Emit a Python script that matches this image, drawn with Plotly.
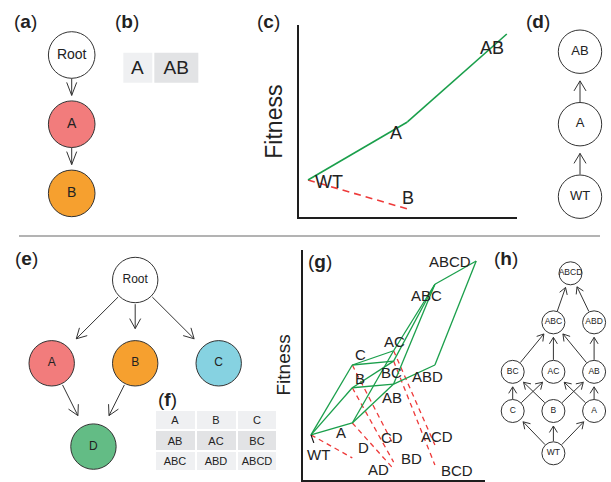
import plotly.graph_objects as go

W, H = 611, 482
FONT = "Liberation Sans, Arial, Helvetica, sans-serif"
INK = "#222222"
EDGE = "#333333"
GREEN = "#1A9F4B"
RED = "#EE3A3A"

# ---------------- data ----------------
# (a) restriction DAG for two genes
a_nodes = ["Root", "A", "B"]
a_col = [0, 0, 0]
a_level = [0, 1, 2]
a_edges = [("Root", "A"), ("A", "B")]

# (b) accessible genotypes
b_genotypes = ["A", "AB"]
b_shade = [0, 1]

# (c) fitness landscape, two loci
c_genotypes = ["WT", "A", "AB", "B"]
c_fitness = [1.93, 4.95, 9.53, 0.42]
c_accessible = [("WT", "A"), ("A", "AB")]
c_inaccessible = [("WT", "B")]

# (d) transition graph
d_nodes = ["WT", "A", "AB"]
d_col = [0, 0, 0]
d_level = [0, 1, 2]
d_edges = [("WT", "A"), ("A", "AB")]

# (e) restriction DAG for four genes
e_nodes = ["Root", "A", "B", "C", "D"]
e_col = [1, 0, 1, 2, 0.5]
e_level = [0, 1, 1, 1, 2]
e_edges = [("Root", "A"), ("Root", "B"), ("Root", "C"), ("A", "D"), ("B", "D")]

gene_colors = {"Root": "#FFFFFF", "A": "#F27C7C", "B": "#F6A02F",
               "C": "#86D2E1", "D": "#63BC85"}

# (f) accessible genotypes
f_genotypes = [["A", "B", "C"], ["AB", "AC", "BC"], ["ABC", "ABD", "ABCD"]]
f_shade = [[0, 0, 0], [1, 1, 1], [0, 0, 0]]

# (g) fitness landscape, four loci
g_genotypes = ["WT", "A", "B", "C", "AB", "AC", "BC", "ABC", "ABD", "ABCD",
               "D", "AD", "BD", "CD", "ACD", "BCD"]
g_fitness = [1.96, 2.48, 4.01, 5.00, 4.17, 5.62, 5.17, 8.51, 5.00, 9.52,
             0.96, 0.48, 0.78, 1.52, 1.52, 0.65]
g_accessible = [("WT", "A"), ("WT", "B"), ("WT", "C"),
                ("A", "AB"), ("A", "AC"), ("B", "AB"), ("B", "BC"),
                ("C", "AC"), ("C", "BC"),
                ("AB", "ABC"), ("AC", "ABC"), ("BC", "ABC"), ("AB", "ABD"),
                ("ABC", "ABCD"), ("ABD", "ABCD")]
g_inaccessible = [("WT", "D"), ("A", "AD"), ("B", "BD"), ("C", "CD"),
                  ("AC", "ACD"), ("BC", "BCD")]

# (h) transition graph
h_nodes = ["WT", "C", "B", "A", "BC", "AC", "AB", "ABC", "ABD", "ABCD"]
h_col = [1, 0, 1, 2, 0, 1, 2, 1, 2, 1.42]
h_level = [0, 0.94, 0.94, 0.94, 1.81, 1.81, 1.81, 2.91, 2.91, 4.0]
h_edges = [("WT", "C"), ("WT", "B"), ("WT", "A"),
           ("C", "BC"), ("C", "AC"), ("B", "BC"), ("B", "AB"),
           ("A", "AC"), ("A", "AB"),
           ("BC", "ABC"), ("AC", "ABC"), ("AB", "ABC"), ("AB", "ABD"),
           ("ABC", "ABCD"), ("ABD", "ABCD")]

# ---------------- styling / placement (pixels) ----------------
c_label_shift = {"WT": (21, 2), "A": (-11, 11), "AB": (-15, 14), "B": (1, -11)}
g_label_shift = {"WT": (7, 20), "A": (-11, 10), "B": (8, -9), "C": (8, -11),
                 "AB": (-2, 13), "AC": (1, -9), "BC": (-2, 11), "ABC": (-8, 11),
                 "ABD": (-7, 11), "ABCD": (-26, 0), "D": (11, -10), "AD": (-15, 1),
                 "BD": (18, -4), "CD": (-2, -8), "ACD": (2, -9), "BCD": (22, 5)}
g_connectors = ["WT"]

fig = go.Figure()


def refs(i):
    return ("x", "y") if i == 1 else (f"x{i}", f"y{i}")


def keys(i):
    return ("xaxis", "yaxis") if i == 1 else (f"xaxis{i}", f"yaxis{i}")


def n_mut(g):
    return 0 if g == "WT" else len(g)


# ---------- node/arrow diagrams ----------
def diagram(i, nodes, cols, levels, edges, place, r, fs, arrow, fills=None):
    ox, oy, sx, sy, down = place
    sgn = 1 if down else -1
    xk, yk = keys(i)
    xr, yr = refs(i)
    fig.update_layout({
        xk: dict(domain=[0, 1], range=[(0 - ox) / sx, (W - ox) / sx],
                 visible=False, anchor=yr, fixedrange=True),
        yk: dict(domain=[0, 1], range=[(H - oy) / (sgn * sy), (0 - oy) / (sgn * sy)],
                 visible=False, anchor=xr, fixedrange=True),
    })
    pos = {n: (ox + c * sx, oy + sgn * l * sy) for n, c, l in zip(nodes, cols, levels)}

    def back(p):
        return (p[0] - ox) / sx, (p[1] - oy) / (sgn * sy)

    tail_gap, tip_gap, L, Wh = arrow
    xs, ys = [], []
    for u, v in edges:
        (x0, y0), (x1, y1) = pos[u], pos[v]
        dx, dy = x1 - x0, y1 - y0
        d = (dx * dx + dy * dy) ** 0.5
        ux, uy = dx / d, dy / d
        nx, ny = -uy, ux
        tail = (x0 + ux * (r + tail_gap), y0 + uy * (r + tail_gap))
        tip = (x1 - ux * (r + tip_gap), y1 - uy * (r + tip_gap))
        armA = (tip[0] - ux * L + nx * Wh, tip[1] - uy * L + ny * Wh)
        armB = (tip[0] - ux * L - nx * Wh, tip[1] - uy * L - ny * Wh)
        for seg in ([tail, tip], [armA, tip, armB]):
            for p in seg:
                bx, by = back(p)
                xs.append(bx)
                ys.append(by)
            xs.append(None)
            ys.append(None)
    fig.add_trace(go.Scatter(x=xs, y=ys, mode="lines", xaxis=xr, yaxis=yr,
                             line=dict(color=EDGE, width=1), hoverinfo="skip",
                             cliponaxis=False))
    colors = [fills.get(n, "#FFFFFF") for n in nodes] if fills else "#FFFFFF"
    fig.add_trace(go.Scatter(x=cols, y=levels, mode="markers+text", text=nodes,
                             xaxis=xr, yaxis=yr, textposition="middle center",
                             textfont=dict(size=fs, color=INK, family=FONT),
                             marker=dict(size=2 * r, color=colors,
                                         line=dict(color=EDGE, width=1)),
                             hoverinfo="skip", cliponaxis=False))


diagram(1, a_nodes, a_col, a_level, a_edges, (71.7, 55, 50, 69.2, True),
        23.3, 14, (0, 5.5, 13, 5), gene_colors)
diagram(4, d_nodes, d_col, d_level, d_edges, (580, 196.7, 50, 72.5, False),
        21.7, 13, (0.5, 7.5, 10, 6))
diagram(5, e_nodes, e_col, e_level, e_edges, (51.7, 280, 83.5, 83.3, True),
        22.7, 12, (1.5, 12, 10, 5.5), gene_colors)
diagram(8, h_nodes, h_col, h_level, h_edges, (512.7, 453.3, 40.7, 45, False),
        11.5, 8.5, (0.5, 3.5, 6.5, 4))


# ---------- genotype tables ----------
def table(i, labels, shade, xedges, box, fs):
    x0, y0, x1, y1 = box
    xk, yk = keys(i)
    xr, yr = refs(i)
    nrow = len(labels)
    fig.add_trace(go.Heatmap(z=shade, x=xedges, y=list(range(nrow + 1)), text=labels,
                             texttemplate="%{text}",
                             textfont=dict(size=fs, color=INK, family=FONT),
                             colorscale=[[0, "#EFF0F2"], [1, "#E2E3E5"]],
                             zmin=0, zmax=1, showscale=False, xgap=2, ygap=2,
                             xaxis=xr, yaxis=yr, hoverinfo="skip"))
    fig.update_layout({
        xk: dict(domain=[x0 / W, x1 / W], range=[xedges[0], xedges[-1]],
                 visible=False, anchor=yr, fixedrange=True),
        yk: dict(domain=[1 - y1 / H, 1 - y0 / H], range=[nrow, 0],
                 visible=False, anchor=xr, fixedrange=True),
    })


b_edges = [0]
for g in b_genotypes:
    b_edges.append(b_edges[-1] + len(g) + 1)
table(2, [b_genotypes], [b_shade], b_edges, (122.3, 51.7, 199, 84), 19)
table(6, f_genotypes, f_shade, [0, 1, 2, 3], (155, 410, 277.3, 471), 11)


# ---------- fitness landscapes ----------
def landscape(i, genos, fit, acc, inacc, box, wt_px, px_per_mut, yrange,
              fs, shifts, lw, dash, connectors=()):
    x0, y0, x1, y1 = box
    xk, yk = keys(i)
    xr, yr = refs(i)
    ax = dict(showline=True, linecolor="#1E1E1E", linewidth=1.5, showgrid=False,
              zeroline=False, showticklabels=False, ticks="", fixedrange=True)
    fig.update_layout({
        xk: dict(ax, domain=[x0 / W, x1 / W], anchor=yr,
                 range=[(x0 - wt_px) / px_per_mut, (x1 - wt_px) / px_per_mut]),
        yk: dict(ax, domain=[1 - y1 / H, 1 - y0 / H], anchor=xr, range=yrange),
    })
    fx = {g: n_mut(g) for g in genos}
    fy = dict(zip(genos, fit))
    for edges, color, ds in ((inacc, RED, dash), (acc, GREEN, "solid")):
        xs, ys = [], []
        for u, v in edges:
            xs += [fx[u], fx[v], None]
            ys += [fy[u], fy[v], None]
        fig.add_trace(go.Scatter(x=xs, y=ys, mode="lines", xaxis=xr, yaxis=yr,
                                 line=dict(color=color, width=lw, dash=ds),
                                 hoverinfo="skip", cliponaxis=False))
    pxy = (y1 - y0) / (yrange[1] - yrange[0])
    for g in connectors:
        dx, dy = shifts[g]
        fig.add_trace(go.Scatter(x=[fx[g], fx[g] + 0.4 * dx / px_per_mut],
                                 y=[fy[g], fy[g] - 0.4 * dy / pxy],
                                 mode="lines", xaxis=xr, yaxis=yr,
                                 line=dict(color="#111111", width=1.2),
                                 hoverinfo="skip", cliponaxis=False))
    for g in genos:
        dx, dy = shifts[g]
        fig.add_annotation(x=fx[g], y=fy[g], xref=xr, yref=yr, text=g,
                           showarrow=False, xshift=dx, yshift=-dy,
                           xanchor="center", yanchor="middle",
                           font=dict(size=fs, color=INK, family=FONT))


landscape(3, c_genotypes, c_fitness, c_accessible, c_inaccessible,
          (299, 25, 517, 217), 308, 99.4, [0, 10], 18, c_label_shift, 1.6, "7px,5px")
landscape(7, g_genotypes, g_fitness, g_accessible, g_inaccessible,
          (303, 250, 485, 480), 311, 41.3, [0, 10], 15, g_label_shift, 1.3, "5px,4px",
          g_connectors)

# axis titles
for cx, cy, fs in ((274, 121.7, 23), (282.5, 365, 19)):
    fig.add_annotation(x=cx / W, y=1 - cy / H, xref="paper", yref="paper",
                       text="Fitness", textangle=-90, showarrow=False,
                       xanchor="center", yanchor="middle",
                       font=dict(size=fs, color=INK, family=FONT))

# panel letters
letters = [("a", 25.8, 21.3), ("b", 126.7, 21.3), ("c", 268.3, 21.3), ("d", 537.8, 21.3),
           ("e", 26, 258.3), ("f", 167.5, 399.2), ("g", 320.3, 261.7), ("h", 506.2, 258.3)]
for t, cx, cy in letters:
    fig.add_annotation(x=cx / W, y=1 - cy / H, xref="paper", yref="paper",
                       text=f"(<b>{t}</b>)", showarrow=False,
                       xanchor="center", yanchor="middle",
                       font=dict(size=19, color=INK, family=FONT))

# separator between the two rows of panels
fig.add_shape(type="line", xref="paper", yref="paper", x0=19 / W, x1=600 / W,
              y0=1 - 236 / H, y1=1 - 236 / H, line=dict(color="#9A9A9A", width=1.5))

fig.update_layout(width=W, height=H, autosize=False,
                  margin=dict(l=0, r=0, t=0, b=0, pad=0),
                  paper_bgcolor="white", plot_bgcolor="rgba(0,0,0,0)",
                  showlegend=False, font=dict(family=FONT, color=INK))

fig.write_html("out.html", config={"displayModeBar": False},
               post_script="document.body.style.margin='0';")
